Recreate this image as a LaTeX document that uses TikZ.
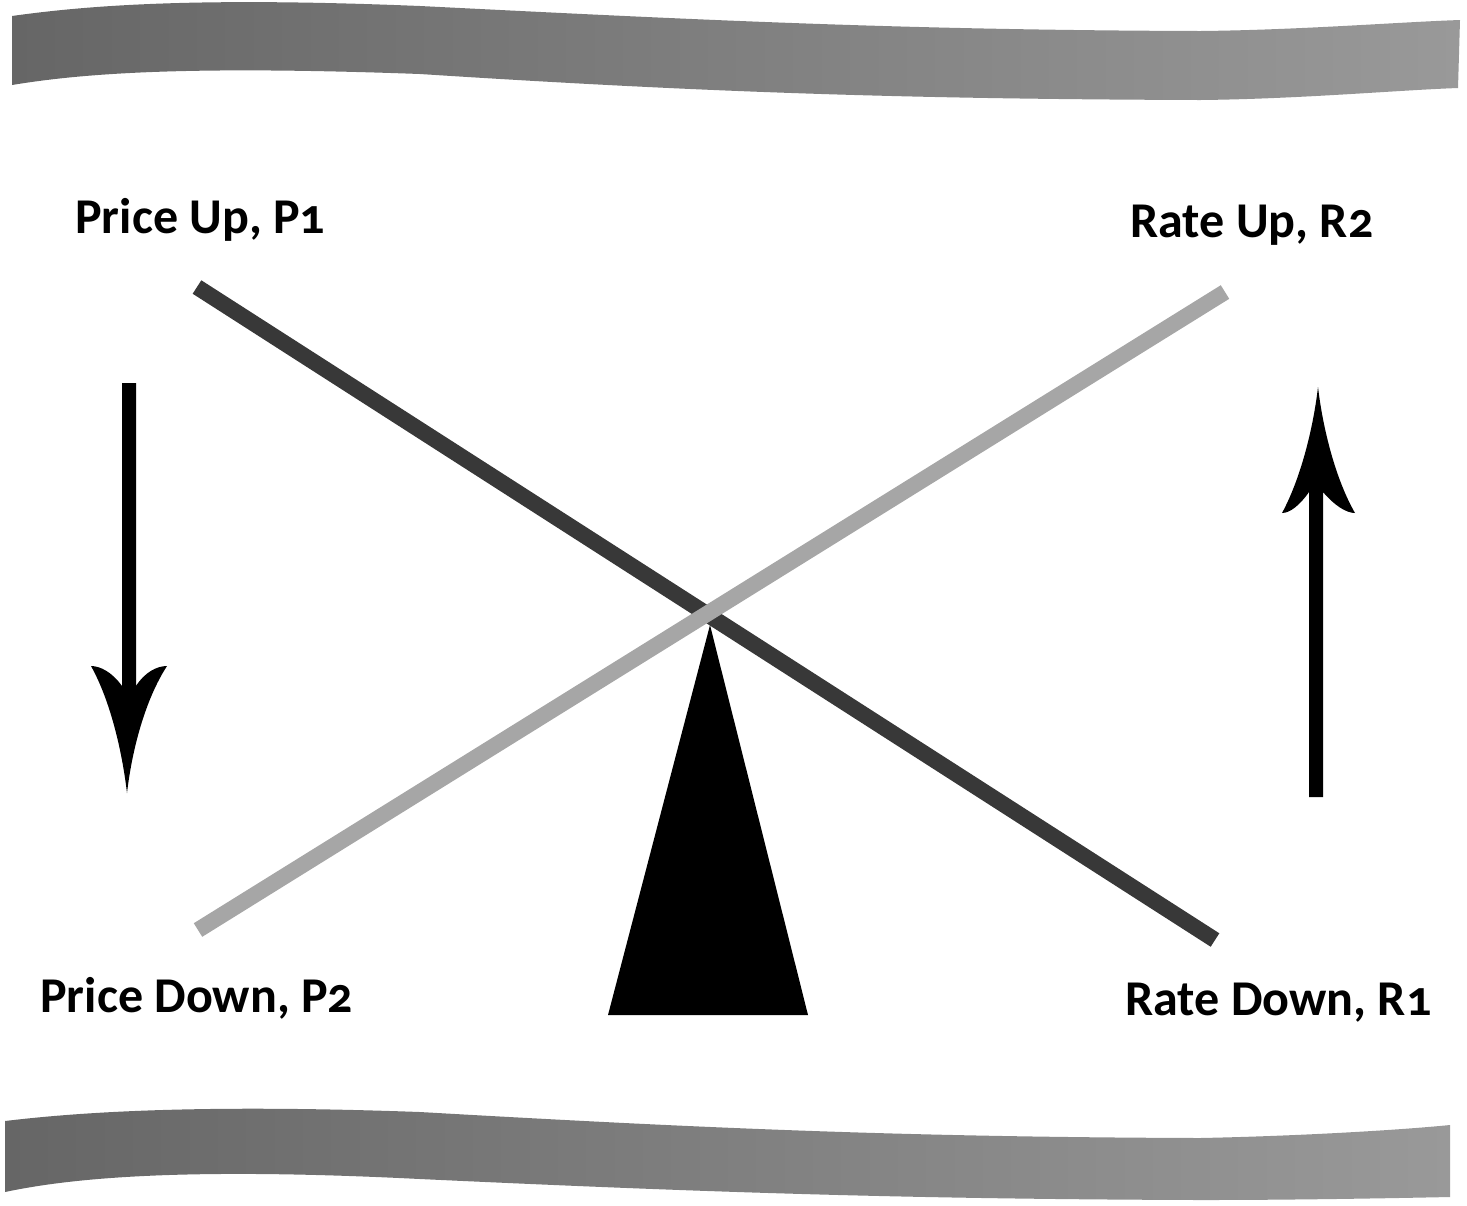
\documentclass[tikz,border=0pt]{standalone}
\usepackage{fontspec}
\setmainfont{Carlito}[Numbers=OldStyle]
\begin{document}
\begin{tikzpicture}[x=0.02cm,y=-0.02cm,
  lbl/.style={font=\bfseries\fontsize{28.5}{33}\selectfont, inner sep=0pt, anchor=base west},
  beam/.style={line width=16*0.02cm},
  band/.style={left color=black!60, right color=black!40, draw=none}]
\useasboundingbox (0,0) rectangle (1467,1205);
% bands
\shade[band] (12,16) .. controls (90,5) and (200,-3) .. (420,6)
  .. controls (700,20) and (900,30) .. (1200,31) .. controls (1300,30) and (1400,22) .. (1460,20)
  -- (1458,88) .. controls (1400,90) and (1300,99) .. (1200,100)
  .. controls (900,99) and (700,92) .. (420,74) .. controls (200,66) and (90,72) .. (12,85) -- cycle;
\shade[band] (5,1121) .. controls (80,1112) and (200,1104) .. (420,1112)
  .. controls (700,1128) and (900,1137) .. (1200,1138) .. controls (1300,1136) and (1400,1130) .. (1450,1125)
  -- (1450,1197) .. controls (1400,1198) and (1300,1200) .. (1200,1200)
  .. controls (900,1199) and (700,1192) .. (420,1179) .. controls (200,1168) and (80,1176) .. (5,1192) -- cycle;
% beams
\coordinate (pu) at (197,287);
\coordinate (rd) at (1215,940);
\coordinate (pd) at (198,930);
\coordinate (ru) at (1225,292);
\draw[beam, draw=black!78] (pu) -- (rd);
\draw[beam, draw=black!35] (pd) -- (ru);
% fulcrum
\fill[black] (710,625) -- (808,1015) -- (608,1015) -- cycle;
% down arrow
\fill[black] (122,383) -- (122,686) .. controls (112,672) and (100,666) .. (91,666)
  .. controls (110,700) and (122,750) .. (127,793)
  .. controls (132,750) and (145,700) .. (167,666)
  .. controls (157,666) and (145,672) .. (136,686) -- (136,383) -- cycle;
% up arrow
\fill[black] (1309,797) -- (1309,492) .. controls (1300,505) and (1290,513) .. (1282,513)
  .. controls (1300,480) and (1313,430) .. (1318,387)
  .. controls (1323,430) and (1336,480) .. (1355,513)
  .. controls (1346,513) and (1334,505) .. (1323,492) -- (1323,797) -- cycle;
% labels
\node[lbl] (t1) at (75,233) {Price Up, P1};
\node[lbl] (t2) at (1130,237) {Rate Up, R2};
\node[lbl] (t3) at (40,1012) {Price Down, P2};
\node[lbl] (t4) at (1125,1015) {Rate Down, R1};
\end{tikzpicture}
\end{document}
